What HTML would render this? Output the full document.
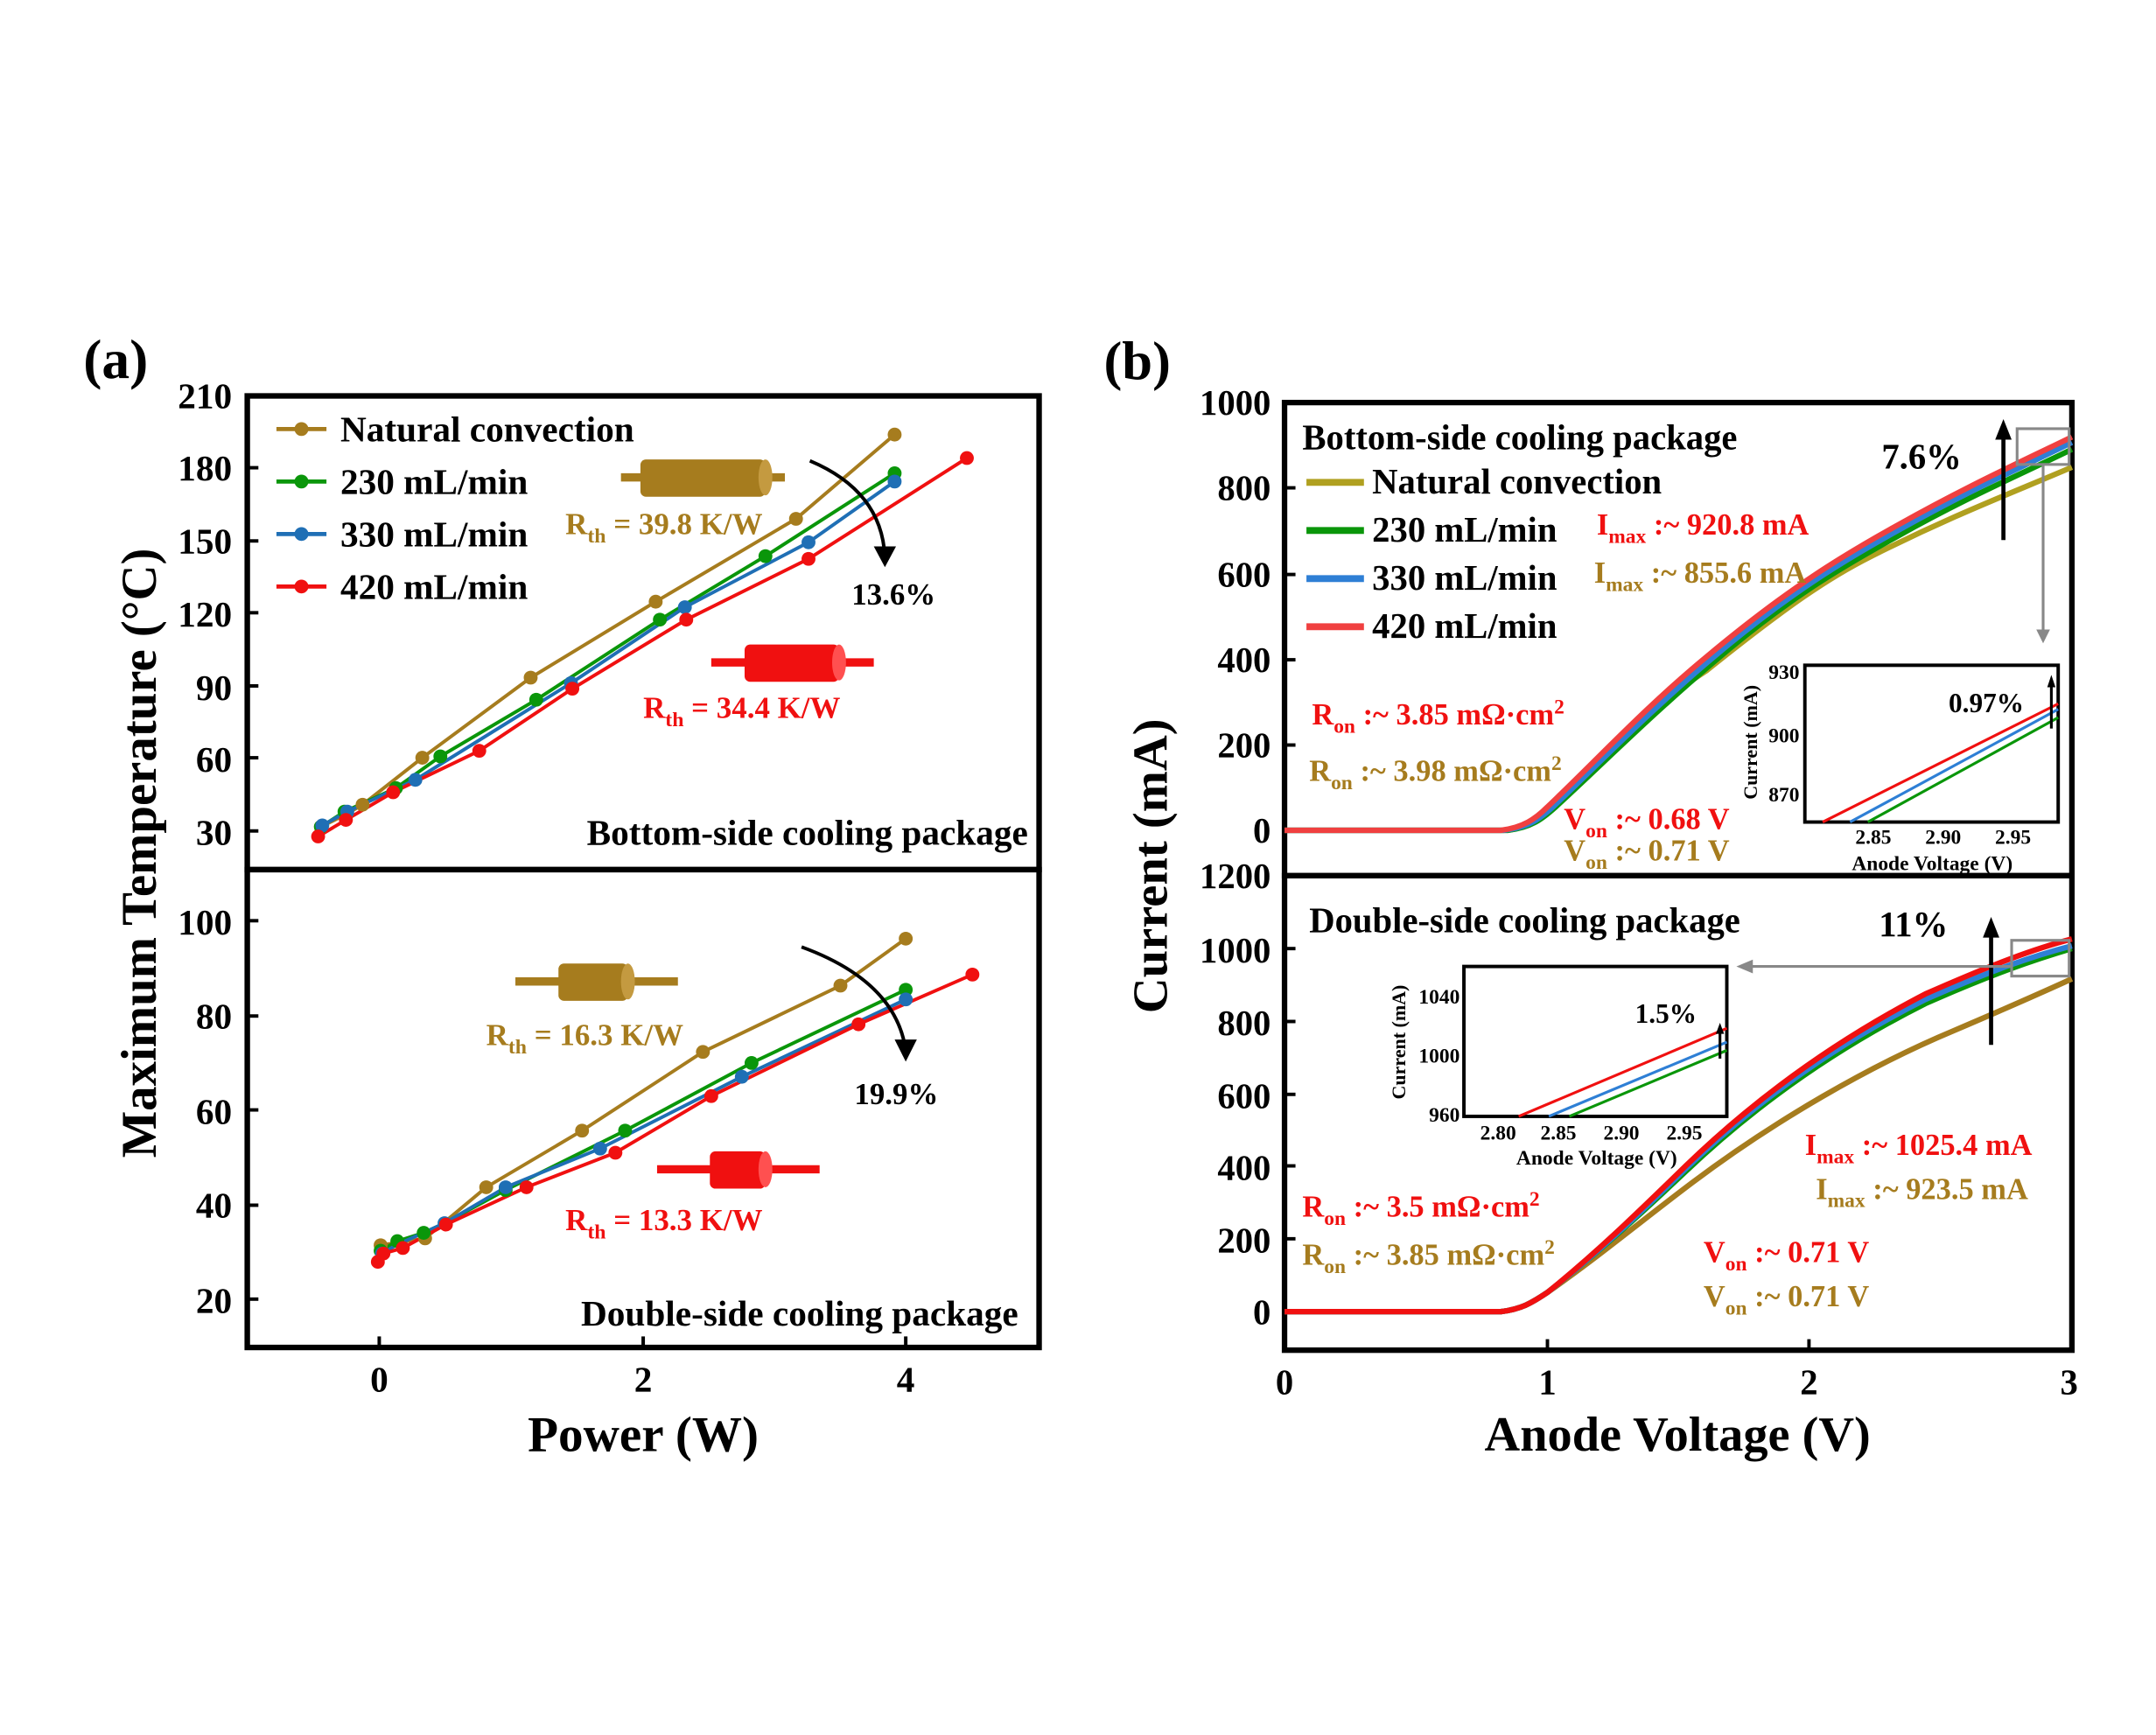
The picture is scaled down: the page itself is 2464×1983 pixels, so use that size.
<!DOCTYPE html>
<html><head><meta charset="utf-8"><style>
html,body{margin:0;padding:0;background:#fff;}
svg{display:block;}
text{font-family:"Liberation Serif",serif;font-weight:bold;}
</style></head><body>
<svg width="2464" height="1983" viewBox="0 0 1552 1249" preserveAspectRatio="none" xmlns="http://www.w3.org/2000/svg">
<rect width="1552" height="1249" fill="#fff"/>
<!-- ============ PANEL A ============ -->
<g transform="matrix(1,0,0,0.9942,-5,-4.3)">
<text x="65" y="278" font-size="40">(a)</text>
<rect x="183" y="291" width="570" height="343" fill="none" stroke="#000" stroke-width="4"/>
<rect x="183" y="634" width="570" height="346" fill="none" stroke="#000" stroke-width="4"/>
<g font-size="26" text-anchor="end">
<text x="172" y="300">210</text><text x="172" y="352">180</text><text x="172" y="405">150</text>
<text x="172" y="458">120</text><text x="172" y="511">90</text><text x="172" y="563">60</text>
<text x="172" y="616">30</text>
<text x="172" y="681">100</text><text x="172" y="749">80</text><text x="172" y="818">60</text>
<text x="172" y="886">40</text><text x="172" y="955">20</text>
</g>
<g stroke="#000" stroke-width="2.5">
<line x1="183" y1="343" x2="191" y2="343"/><line x1="183" y1="396" x2="191" y2="396"/><line x1="183" y1="448" x2="191" y2="448"/><line x1="183" y1="501" x2="191" y2="501"/><line x1="183" y1="553" x2="191" y2="553"/><line x1="183" y1="606" x2="191" y2="606"/>
<line x1="183" y1="671" x2="191" y2="671"/><line x1="183" y1="740" x2="191" y2="740"/><line x1="183" y1="808" x2="191" y2="808"/><line x1="183" y1="877" x2="191" y2="877"/><line x1="183" y1="945" x2="191" y2="945"/>
<line x1="278" y1="980" x2="278" y2="972"/><line x1="468" y1="980" x2="468" y2="972"/><line x1="657" y1="980" x2="657" y2="972"/>
</g>
<g font-size="26" text-anchor="middle"><text x="278" y="1012">0</text><text x="468" y="1012">2</text><text x="657" y="1012">4</text></g>
<text x="468" y="1055" font-size="36" text-anchor="middle">Power (W)</text>
<text transform="translate(117,622) rotate(-90)" font-size="36" text-anchor="middle">Maximum Temperature (°C)</text>
<g font-size="26">
<line x1="204" y1="315" x2="240" y2="315" stroke="#A67C1E" stroke-width="3"/><circle cx="222" cy="315" r="5" fill="#A67C1E"/><text x="250" y="324">Natural convection</text>
<line x1="204" y1="353" x2="240" y2="353" stroke="#0A960A" stroke-width="3"/><circle cx="222" cy="353" r="5" fill="#0A960A"/><text x="250" y="362">230 mL/min</text>
<line x1="204" y1="391" x2="240" y2="391" stroke="#1F6FB5" stroke-width="3"/><circle cx="222" cy="391" r="5" fill="#1F6FB5"/><text x="250" y="400">330 mL/min</text>
<line x1="204" y1="429" x2="240" y2="429" stroke="#F01010" stroke-width="3"/><circle cx="222" cy="429" r="5" fill="#F01010"/><text x="250" y="438">420 mL/min</text>
</g>
<g stroke-width="2.5" fill="none">
<polyline stroke="#A67C1E" points="236,603 254,594 266,587 309,553 387,495 477,440 578,380 649,319"/>
<polyline stroke="#0A960A" points="236,603 253,592 290,575 322,552 391,511 480,453 556,407 649,347"/>
<polyline stroke="#1F6FB5" points="237,602 255,592 304,569 416,499 498,444 587,397 649,353"/>
<polyline stroke="#F01010" points="234,610 254,598 288,578 350,548 417,503 499,453 587,409 701,336"/>
</g>
<g fill="#A67C1E"><circle cx="236" cy="603" r="5"/><circle cx="254" cy="594" r="5"/><circle cx="266" cy="587" r="5"/><circle cx="309" cy="553" r="5"/><circle cx="387" cy="495" r="5"/><circle cx="477" cy="440" r="5"/><circle cx="578" cy="380" r="5"/><circle cx="649" cy="319" r="5"/></g>
<g fill="#0A960A"><circle cx="236" cy="603" r="5"/><circle cx="253" cy="592" r="5"/><circle cx="290" cy="575" r="5"/><circle cx="322" cy="552" r="5"/><circle cx="391" cy="511" r="5"/><circle cx="480" cy="453" r="5"/><circle cx="556" cy="407" r="5"/><circle cx="649" cy="347" r="5"/></g>
<g fill="#1F6FB5"><circle cx="237" cy="602" r="5"/><circle cx="255" cy="592" r="5"/><circle cx="304" cy="569" r="5"/><circle cx="416" cy="499" r="5"/><circle cx="498" cy="444" r="5"/><circle cx="587" cy="397" r="5"/><circle cx="649" cy="353" r="5"/></g>
<g fill="#F01010"><circle cx="234" cy="610" r="5"/><circle cx="254" cy="598" r="5"/><circle cx="288" cy="578" r="5"/><circle cx="350" cy="548" r="5"/><circle cx="417" cy="503" r="5"/><circle cx="499" cy="453" r="5"/><circle cx="587" cy="409" r="5"/><circle cx="701" cy="336" r="5"/></g>
<line x1="452" y1="350" x2="570" y2="350" stroke="#A67C1E" stroke-width="6"/>
<rect x="466" y="337" width="90" height="27" rx="4" fill="#A67C1E"/>
<ellipse cx="556" cy="350" rx="5" ry="13" fill="#C49A40"/>
<line x1="517" y1="484" x2="634" y2="484" stroke="#F01010" stroke-width="6"/>
<rect x="541" y="471" width="68" height="27" rx="4" fill="#F01010"/>
<ellipse cx="609" cy="484" rx="5" ry="13" fill="#FF5050"/>
<text x="412" y="391" font-size="22" fill="#A67C1E">R<tspan font-size="15" dy="6">th</tspan><tspan dy="-6"> = 39.8 K/W</tspan></text>
<text x="468" y="524" font-size="22" fill="#F01010">R<tspan font-size="15" dy="6">th</tspan><tspan dy="-6"> = 34.4 K/W</tspan></text>
<path d="M588,338 Q640,360 642,408" fill="none" stroke="#000" stroke-width="2.5"/>
<polygon points="634,400 650,400 642,415" fill="#000"/>
<text x="618" y="442" font-size="22">13.6%</text>
<text x="745" y="616" font-size="26" text-anchor="end">Bottom-side cooling package</text>
<g stroke-width="2.5" fill="none">
<polyline stroke="#A67C1E" points="279,906 311,901 355,864 424,823 511,766 610,718 657,684"/>
<polyline stroke="#0A960A" points="279,910 291,903 310,897 325,890 369,866 455,823 546,774 657,721"/>
<polyline stroke="#1F6FB5" points="280,912 290,906 325,890 369,864 437,836 539,784 657,728"/>
<polyline stroke="#F01010" points="277,918 281,912 295,908 326,891 384,864 448,839 517,798 623,746 705,710"/>
</g>
<g fill="#A67C1E"><circle cx="279" cy="906" r="5"/><circle cx="311" cy="901" r="5"/><circle cx="355" cy="864" r="5"/><circle cx="424" cy="823" r="5"/><circle cx="511" cy="766" r="5"/><circle cx="610" cy="718" r="5"/><circle cx="657" cy="684" r="5"/></g>
<g fill="#0A960A"><circle cx="279" cy="910" r="5"/><circle cx="291" cy="903" r="5"/><circle cx="310" cy="897" r="5"/><circle cx="369" cy="866" r="5"/><circle cx="455" cy="823" r="5"/><circle cx="546" cy="774" r="5"/><circle cx="657" cy="721" r="5"/></g>
<g fill="#1F6FB5"><circle cx="280" cy="912" r="5"/><circle cx="325" cy="890" r="5"/><circle cx="369" cy="864" r="5"/><circle cx="437" cy="836" r="5"/><circle cx="539" cy="784" r="5"/><circle cx="657" cy="728" r="5"/></g>
<g fill="#F01010"><circle cx="277" cy="918" r="5"/><circle cx="281" cy="912" r="5"/><circle cx="295" cy="908" r="5"/><circle cx="326" cy="891" r="5"/><circle cx="384" cy="864" r="5"/><circle cx="448" cy="839" r="5"/><circle cx="517" cy="798" r="5"/><circle cx="623" cy="746" r="5"/><circle cx="705" cy="710" r="5"/></g>
<line x1="376" y1="715" x2="493" y2="715" stroke="#A67C1E" stroke-width="6"/>
<rect x="407" y="702" width="50" height="27" rx="4" fill="#A67C1E"/>
<ellipse cx="457" cy="715" rx="5" ry="13" fill="#C49A40"/>
<line x1="478" y1="851" x2="595" y2="851" stroke="#F01010" stroke-width="6"/>
<rect x="516" y="838" width="40" height="27" rx="4" fill="#F01010"/>
<ellipse cx="556" cy="851" rx="5" ry="13" fill="#FF5050"/>
<text x="355" y="761" font-size="22" fill="#A67C1E">R<tspan font-size="15" dy="6">th</tspan><tspan dy="-6"> = 16.3 K/W</tspan></text>
<text x="412" y="895" font-size="22" fill="#F01010">R<tspan font-size="15" dy="6">th</tspan><tspan dy="-6"> = 13.3 K/W</tspan></text>
<path d="M582,690 Q650,715 657,765" fill="none" stroke="#000" stroke-width="2.5"/>
<polygon points="649,757 665,757 657,773" fill="#000"/>
<text x="620" y="804" font-size="22">19.9%</text>
<text x="738" y="964" font-size="26" text-anchor="end">Double-side cooling  package</text>
</g>

<!-- ============ PANEL B ============ -->
<g transform="matrix(0.9857,0,0,0.9901,6,-0.3)">
<text x="800" y="276" font-size="40">(b)</text>
<rect x="932" y="293" width="575" height="344" fill="none" stroke="#000" stroke-width="4"/>
<rect x="932" y="637" width="575" height="345" fill="none" stroke="#000" stroke-width="4"/>
<g font-size="26" text-anchor="end">
<text x="922" y="302">1000</text><text x="922" y="364">800</text><text x="922" y="427">600</text>
<text x="922" y="489">400</text><text x="922" y="551">200</text><text x="922" y="613">0</text>
<text x="922" y="646">1200</text><text x="922" y="700">1000</text><text x="922" y="753">800</text>
<text x="922" y="806">600</text><text x="922" y="858">400</text><text x="922" y="911">200</text><text x="922" y="963">0</text>
</g>
<g stroke="#000" stroke-width="2.5">
<line x1="932" y1="355" x2="940" y2="355"/><line x1="932" y1="418" x2="940" y2="418"/><line x1="932" y1="480" x2="940" y2="480"/><line x1="932" y1="542" x2="940" y2="542"/><line x1="932" y1="604" x2="940" y2="604"/>
<line x1="932" y1="690" x2="940" y2="690"/><line x1="932" y1="743" x2="940" y2="743"/><line x1="932" y1="796" x2="940" y2="796"/><line x1="932" y1="848" x2="940" y2="848"/><line x1="932" y1="901" x2="940" y2="901"/><line x1="932" y1="954" x2="940" y2="954"/>
<line x1="1124" y1="982" x2="1124" y2="974"/><line x1="1315" y1="982" x2="1315" y2="974"/>
</g>
<g font-size="26" text-anchor="middle"><text x="932" y="1014">0</text><text x="1124" y="1014">1</text><text x="1315" y="1014">2</text><text x="1505" y="1014">3</text></g>
<text x="1219" y="1055" font-size="36" text-anchor="middle">Anode Voltage (V)</text>
<text transform="translate(846,630) rotate(-90)" font-size="36" text-anchor="middle">Current (mA)</text>
<g fill="none" stroke-width="4">
<path stroke="#B0A020" d="M932,604 L1095,604 C1110,602 1118,596 1128,588 C1160,560 1190,520 1240,488 C1300,440 1330,420 1360,405 C1420,375 1460,360 1507,340"/>
<path stroke="#0A960A" d="M932,604 L1095,604 C1112,602 1120,596 1130,587 C1165,555 1200,520 1245,482 C1300,435 1340,412 1380,390 C1430,362 1470,345 1507,327"/>
<path stroke="#2E7FD5" d="M932,604 L1092,604 C1110,602 1118,596 1128,587 C1162,555 1198,518 1243,480 C1300,432 1340,408 1380,386 C1430,358 1470,340 1507,322"/>
<path stroke="#F04040" d="M932,604 L1090,604 C1106,602 1115,596 1124,587 C1160,553 1195,515 1240,478 C1300,428 1340,404 1380,382 C1430,354 1470,336 1507,318"/>
</g>
<text x="945" y="327" font-size="26">Bottom-side cooling package</text>
<g font-size="26">
<line x1="948" y1="351" x2="990" y2="351" stroke="#B0A020" stroke-width="5"/><text x="996" y="359">Natural convection</text>
<line x1="948" y1="386" x2="990" y2="386" stroke="#0A960A" stroke-width="5"/><text x="996" y="394">230 mL/min</text>
<line x1="948" y1="421" x2="990" y2="421" stroke="#2E7FD5" stroke-width="5"/><text x="996" y="429">330 mL/min</text>
<line x1="948" y1="456" x2="990" y2="456" stroke="#F04040" stroke-width="5"/><text x="996" y="464">420 mL/min</text>
</g>
<text x="1160" y="389" font-size="22" fill="#F01010">I<tspan font-size="15" dy="6">max</tspan><tspan dy="-6"> :~ 920.8 mA</tspan></text>
<text x="1158" y="424" font-size="22" fill="#A67C1E">I<tspan font-size="15" dy="6">max</tspan><tspan dy="-6"> :~ 855.6 mA</tspan></text>
<text x="952" y="527" font-size="22" fill="#F01010">R<tspan font-size="15" dy="6">on</tspan><tspan dy="-6"> :~ 3.85 mΩ·cm</tspan><tspan font-size="15" dy="-8">2</tspan></text>
<text x="950" y="568" font-size="22" fill="#A67C1E">R<tspan font-size="15" dy="6">on</tspan><tspan dy="-6"> :~ 3.98 mΩ·cm</tspan><tspan font-size="15" dy="-8">2</tspan></text>
<text x="1136" y="603" font-size="22" fill="#F01010">V<tspan font-size="15" dy="6">on</tspan><tspan dy="-6"> :~ 0.68 V</tspan></text>
<text x="1136" y="626" font-size="22" fill="#A67C1E">V<tspan font-size="15" dy="6">on</tspan><tspan dy="-6"> :~ 0.71 V</tspan></text>
<text x="1368" y="341" font-size="26">7.6%</text>
<line x1="1457" y1="393" x2="1457" y2="318" stroke="#000" stroke-width="3"/>
<polygon points="1451,320 1463,320 1457,305" fill="#000"/>
<rect x="1467" y="312" width="38" height="26" fill="none" stroke="#888" stroke-width="2"/>
<line x1="1486" y1="338" x2="1486" y2="460" stroke="#888" stroke-width="2"/>
<polygon points="1481,458 1491,458 1486,468" fill="#888"/>
<rect x="1312" y="484" width="185" height="114" fill="#fff" stroke="#000" stroke-width="2.5"/>
<g fill="none" stroke-width="2">
<path stroke="#0A960A" d="M1358,598 L1497,522"/>
<path stroke="#2E7FD5" d="M1345,598 L1497,516"/>
<path stroke="#F01010" d="M1325,598 L1497,512"/>
</g>
<line x1="1492" y1="530" x2="1492" y2="498" stroke="#000" stroke-width="2"/>
<polygon points="1489,500 1495,500 1492,491" fill="#000"/>
<text x="1417" y="518" font-size="20">0.97%</text>
<g font-size="15" text-anchor="end"><text x="1308" y="494">930</text><text x="1308" y="540">900</text><text x="1308" y="583">870</text></g>
<g font-size="15" text-anchor="middle"><text x="1362" y="614">2.85</text><text x="1413" y="614">2.90</text><text x="1464" y="614">2.95</text></g>
<text x="1405" y="633" font-size="15" text-anchor="middle">Anode Voltage (V)</text>
<text transform="translate(1277,540) rotate(-90)" font-size="14" text-anchor="middle">Current (mA)</text>
<g fill="none" stroke-width="4">
<path stroke="#A67C1E" d="M932,954 L1090,954 C1105,952 1112,948 1124,940 C1160,915 1190,890 1230,860 C1290,815 1360,775 1420,750 C1460,733 1485,722 1507,712"/>
<path stroke="#0A960A" d="M932,954 L1090,954 C1105,952 1112,948 1124,940 C1160,912 1190,885 1225,852 C1280,800 1340,760 1400,730 C1450,708 1480,698 1507,690"/>
<path stroke="#2E7FD5" d="M932,954 L1090,954 C1105,952 1112,948 1124,940 C1160,912 1190,884 1225,850 C1280,798 1340,757 1400,727 C1450,705 1480,695 1507,688"/>
<path stroke="#F01010" d="M932,954 L1090,954 C1105,952 1112,948 1124,940 C1160,911 1190,882 1225,848 C1280,795 1340,754 1400,723 C1450,701 1480,690 1507,683"/>
</g>
<text x="950" y="678" font-size="26">Double-side cooling  package</text>
<text x="1366" y="681" font-size="26">11%</text>
<line x1="1448" y1="760" x2="1448" y2="680" stroke="#000" stroke-width="3"/>
<polygon points="1442,682 1454,682 1448,667" fill="#000"/>
<rect x="1463" y="684" width="42" height="26" fill="none" stroke="#888" stroke-width="2"/>
<line x1="1463" y1="703" x2="1272" y2="703" stroke="#888" stroke-width="2"/>
<polygon points="1274,698 1274,708 1262,703" fill="#888"/>
<text x="1312" y="840" font-size="22" fill="#F01010">I<tspan font-size="15" dy="6">max</tspan><tspan dy="-6"> :~ 1025.4 mA</tspan></text>
<text x="1320" y="872" font-size="22" fill="#A67C1E">I<tspan font-size="15" dy="6">max</tspan><tspan dy="-6"> :~ 923.5 mA</tspan></text>
<text x="945" y="885" font-size="22" fill="#F01010">R<tspan font-size="15" dy="6">on</tspan><tspan dy="-6"> :~ 3.5 mΩ·cm</tspan><tspan font-size="15" dy="-8">2</tspan></text>
<text x="945" y="920" font-size="22" fill="#A67C1E">R<tspan font-size="15" dy="6">on</tspan><tspan dy="-6"> :~ 3.85 mΩ·cm</tspan><tspan font-size="15" dy="-8">2</tspan></text>
<text x="1238" y="918" font-size="22" fill="#F01010">V<tspan font-size="15" dy="6">on</tspan><tspan dy="-6"> :~ 0.71 V</tspan></text>
<text x="1238" y="950" font-size="22" fill="#A67C1E">V<tspan font-size="15" dy="6">on</tspan><tspan dy="-6"> :~ 0.71 V</tspan></text>
<rect x="1063" y="703" width="192" height="109" fill="#fff" stroke="#000" stroke-width="2.5"/>
<g fill="none" stroke-width="2">
<path stroke="#0A960A" d="M1140,812 L1255,764"/>
<path stroke="#2E7FD5" d="M1125,812 L1255,758"/>
<path stroke="#F01010" d="M1103,812 L1255,748"/>
</g>
<line x1="1250" y1="770" x2="1250" y2="750" stroke="#000" stroke-width="2"/>
<polygon points="1247,752 1253,752 1250,744" fill="#000"/>
<text x="1188" y="744" font-size="20">1.5%</text>
<g font-size="15" text-anchor="end"><text x="1060" y="730">1040</text><text x="1060" y="773">1000</text><text x="1060" y="816">960</text></g>
<g font-size="15" text-anchor="middle"><text x="1088" y="829">2.80</text><text x="1132" y="829">2.85</text><text x="1178" y="829">2.90</text><text x="1224" y="829">2.95</text></g>
<text x="1160" y="847" font-size="15" text-anchor="middle">Anode Voltage (V)</text>
<text transform="translate(1020,758) rotate(-90)" font-size="14" text-anchor="middle">Current (mA)</text>
</g>
</svg>
</body></html>
